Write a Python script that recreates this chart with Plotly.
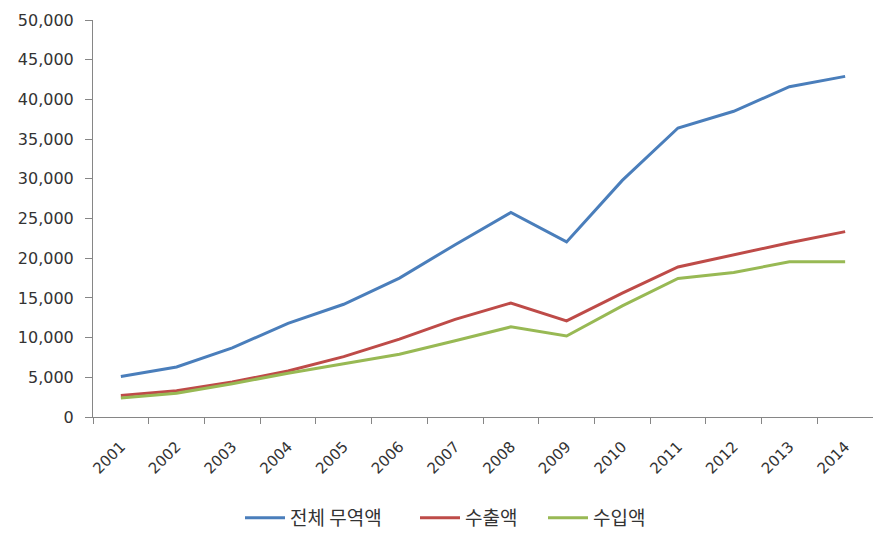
import plotly.graph_objects as go

# 연도별 무역액 (단위 생략)
years = ["2001", "2002", "2003", "2004", "2005", "2006", "2007",
         "2008", "2009", "2010", "2011", "2012", "2013", "2014"]
total_trade = [5100, 6300, 8700, 11800, 14200, 17500, 21700,
               25750, 22050, 29800, 36400, 38500, 41600, 42900]
exports = [2700, 3300, 4400, 5800, 7600, 9800, 12300,
           14350, 12100, 15600, 18900, 20400, 21950, 23350]
imports = [2400, 3000, 4200, 5500, 6700, 7900, 9600,
           11350, 10200, 14000, 17450, 18200, 19550, 19550]
y_ticks = [0, 5000, 10000, 15000, 20000, 25000, 30000, 35000, 40000, 45000, 50000]

series = [
    ("전체 무역액", total_trade, "#4A7EBB"),
    ("수출액", exports, "#BE4B48"),
    ("수입액", imports, "#98B954"),
]
# each series gets its own legend box along the bottom (left edge, px)
legend_left_px = [240, 415, 543]

W, H = 873, 537
fig = go.Figure()
legend_layouts = {}
for i, (name, values, color) in enumerate(series):
    key = "legend" if i == 0 else f"legend{i + 1}"
    fig.add_trace(go.Scatter(
        x=years, y=values, name=name, mode="lines",
        line=dict(color=color, width=3), legend=key,
    ))
    legend_layouts[key] = dict(
        orientation="h", xref="container", yref="container",
        x=legend_left_px[i] / W, xanchor="left", y=0.0, yanchor="bottom",
        font=dict(family="Noto Sans CJK KR", size=19, color="#333333"),
        itemwidth=40, bgcolor="rgba(0,0,0,0)",
    )

axis_color = "#868686"
fig.update_layout(
    width=W, height=H,
    margin=dict(l=93, r=0, t=20, b=120),
    paper_bgcolor="white", plot_bgcolor="white",
    font=dict(family="DejaVu Sans", color="#333333"),
    showlegend=True,
    xaxis=dict(
        type="category", range=[-0.5, 13.5],
        showgrid=False, showline=True, linecolor=axis_color, linewidth=1,
        ticks="outside", tickson="boundaries", ticklen=6, tickcolor=axis_color,
        tickangle=-45, tickfont=dict(size=15, color="#333333"),
        ticklabelstandoff=14,
    ),
    yaxis=dict(
        range=[0, 50000], tickvals=y_ticks, tickformat=",d",
        showgrid=False, showline=True, linecolor=axis_color, linewidth=1,
        ticks="outside", ticklen=7, tickcolor=axis_color,
        tickfont=dict(size=16, color="#333333"), zeroline=False,
        ticklabelstandoff=8,
    ),
    **legend_layouts,
)

fig.write_html("out.html")
